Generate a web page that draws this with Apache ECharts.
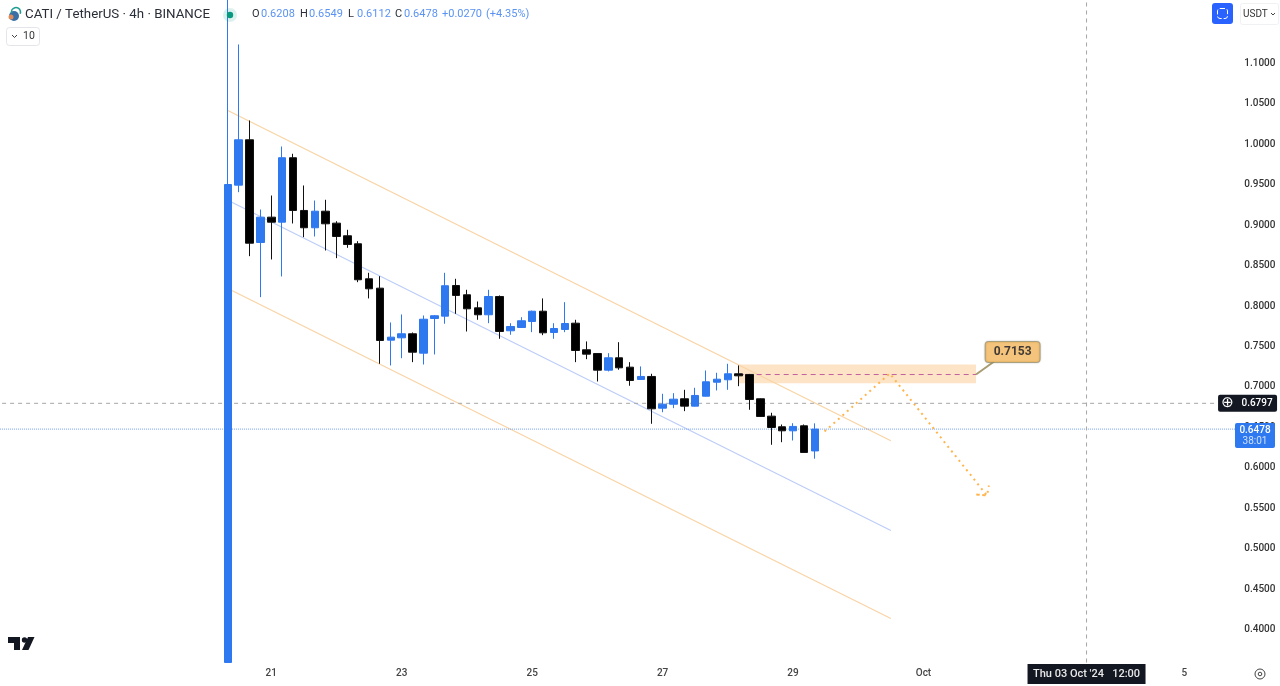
<!DOCTYPE html>
<html>
<head>
<meta charset="utf-8">
<title>CATI / TetherUS</title>
<style>
    html, body { margin: 0; padding: 0; background: #fff; }
    #chart_div { width: 1280px; height: 686px; }
</style>
<script src="https://cdn.jsdelivr.net/npm/echarts@6/dist/echarts.min.js"></script>
</head>
<body>
<div id="chart_div"></div>
<script>
// 4h bars
var opens = [0.3592, 0.9495, 1.0056, 0.8786, 0.9099, 0.9037, 0.9834, 0.9182, 0.8968, 0.9173, 0.9025,
    0.8869, 0.8770, 0.8337, 0.8221, 0.7578, 0.7607, 0.7657, 0.7417, 0.7846, 0.7875, 0.8254, 0.8139,
    0.7978, 0.7892, 0.8118, 0.7694, 0.7735, 0.7809, 0.7936, 0.7673, 0.7710, 0.7788, 0.7459, 0.7413,
    0.7207, 0.7360, 0.7244, 0.7092, 0.7129, 0.6737, 0.6786, 0.6853, 0.6762, 0.6885, 0.7058, 0.7088,
    0.7162, 0.7154, 0.6853, 0.6638, 0.6507, 0.6457, 0.6519, 0.6208];
var closes = [0.9503, 1.0056, 0.8777, 0.9099, 0.9037, 0.9834, 0.9182, 0.8968, 0.9173, 0.9017, 0.8860,
    0.8761, 0.8325, 0.8213, 0.7574, 0.7615, 0.7657, 0.7429, 0.7837, 0.7880, 0.8251, 0.8131, 0.7966,
    0.7892, 0.8118, 0.7685, 0.7747, 0.7818, 0.7936, 0.7669, 0.7722, 0.7784, 0.7450, 0.7405, 0.7207,
    0.7360, 0.7236, 0.7079, 0.7129, 0.6729, 0.6786, 0.6848, 0.6762, 0.6894, 0.7063, 0.7095, 0.7162,
    0.7137, 0.6844, 0.6634, 0.6498, 0.6457, 0.6511, 0.6189, 0.6478];
var lows = [0.3592, 0.9408, 0.8617, 0.8110, 0.8576, 0.8366, 0.9021, 0.8852, 0.8860, 0.8687, 0.8592,
    0.8720, 0.8295, 0.8094, 0.7286, 0.7265, 0.7355, 0.7306, 0.7277, 0.7401, 0.7781, 0.7904, 0.7685,
    0.7830, 0.7788, 0.7595, 0.7645, 0.7729, 0.7677, 0.7640, 0.7595, 0.7677, 0.7306, 0.7343, 0.7067,
    0.7191, 0.7212, 0.7014, 0.7086, 0.6544, 0.6687, 0.6737, 0.6700, 0.6758, 0.6881, 0.6956, 0.6964,
    0.7009, 0.6717, 0.6628, 0.6284, 0.6316, 0.6337, 0.6183, 0.6112];
var highs = [1.1900, 1.1235, 1.0295, 0.9194, 0.9367, 0.9973, 0.9883, 0.9491, 0.9305, 0.9314, 0.9049,
    0.8943, 0.8802, 0.8411, 0.8369, 0.7797, 0.7896, 0.7673, 0.7883, 0.7889, 0.8411, 0.8337, 0.8201,
    0.8056, 0.8201, 0.8131, 0.7788, 0.7862, 0.7943, 0.8094, 0.7788, 0.8048, 0.7830, 0.7562, 0.7419,
    0.7417, 0.7553, 0.7306, 0.7253, 0.7162, 0.6915, 0.6922, 0.6964, 0.6989, 0.7203, 0.7175, 0.7286,
    0.7265, 0.7160, 0.6857, 0.6680, 0.6535, 0.6551, 0.6535, 0.6549];

// price axis
var priceTicks = [0.4, 0.45, 0.5, 0.55, 0.6, 0.65, 0.7, 0.75, 0.8, 0.85, 0.9, 0.95, 1.0, 1.05, 1.1];

// time axis
var tickTimes = ['09-21 00:00', '09-23 00:00', '09-25 00:00', '09-27 00:00', '09-29 00:00', '10-01 00:00', '10-03 12:00', '10-05 00:00'];
var tickLabels = ['21', '23', '25', '27', '29', 'Oct', "Thu 03 Oct '24   12:00", '5'];

// header readout
var ohlcKeys = ['O', 'H', 'L', 'C'];
var ohlcValues = ['0.6208', '0.6549', '0.6112', '0.6478'];
var changeTexts = ['+0.0270', '(+4.35%)'];

// drawings, x in bar slots
var channelX = [21, 82];
var upperChannel = [1.0418, 0.6334];
var middleChannel = [0.9309, 0.5224];
var lowerChannel = [0.8217, 0.4136];
var pathX = [75.9, 81.9, 90.84, 89.74, 90.84, 91.02];
var pathY = [0.6449, 0.7166, 0.5657, 0.5670, 0.5657, 0.5781];
var zoneX = [68, 89.83];
var zoneY = [0.7277, 0.7046];
var targetPrice = 0.7153;
var crossPrice = 0.6797;
var lastPrice = 0.6478;
var crossSlot = 100;

var slotCount = 114;
var firstBar = 21;

// slot times, 4h apart
var categories = [];
var startTime = Date.UTC(2024, 8, 16, 20, 0);
for (var i = 0; i < slotCount; i++) {
    var d = new Date(startTime + i * 4 * 3600 * 1000);
    categories.push(pad(d.getUTCMonth() + 1) + '-' + pad(d.getUTCDate()) + ' ' + pad(d.getUTCHours()) + ':00');
}
function pad(n) {
    return n < 10 ? '0' + n : '' + n;
}

var candleData = [];
for (var i = 0; i < firstBar; i++) {
    candleData.push('-');
}
for (var i = 0; i < closes.length; i++) {
    candleData.push([opens[i], closes[i], lows[i], highs[i]]);
}

function zip(xs, ys) {
    var out = [];
    for (var i = 0; i < xs.length; i++) {
        out.push([xs[i], ys[i]]);
    }
    return out;
}

function drawing(name, data, color, width, type, extra) {
    var s = {
        name: name,
        type: 'line',
        xAxisIndex: 1,
        data: data,
        symbol: 'none',
        silent: true,
        z: 2,
        clip: false,
        lineStyle: { color: color, width: width, type: type }
    };
    for (var k in extra) {
        s[k] = extra[k];
    }
    return s;
}

var font = 'Roboto, sans-serif';
var blue = '#2e78f0';

// header, buttons and logo
var headerItems = [
    { type: 'circle', shape: { cx: 14, cy: 16, r: 5 }, style: { fill: '#3a6ea5' } },
    { type: 'circle', shape: { cx: 11, cy: 17, r: 2.5 }, style: { fill: '#e08a5a' } },
    { type: 'arc', shape: { cx: 16, cy: 12, r: 4.5, startAngle: -3.4, endAngle: 0.4 }, style: { stroke: '#1f9d94', lineWidth: 1.6, fill: null } },
    { type: 'text', x: 25, y: 8, style: { text: 'CATI / TetherUS \u00b7 4h \u00b7 BINANCE', font: '13.3px ' + font, fill: '#2a2e39' } },
    { type: 'circle', shape: { cx: 230, cy: 15, r: 7 }, style: { fill: 'rgba(8,153,129,0.14)' }, z: 10 },
    { type: 'circle', shape: { cx: 230, cy: 15, r: 3.2 }, style: { fill: '#089981' }, z: 10 },
    { type: 'rect', shape: { x: 6.5, y: 27.5, width: 33, height: 18, r: 3 }, style: { fill: '#fff', stroke: '#e3e5ea' } },
    { type: 'polyline', shape: { points: [[12, 35], [14.5, 37.5], [17, 35]] }, style: { stroke: '#444', lineWidth: 1, fill: null } },
    { type: 'text', x: 23, y: 31, style: { text: '10', font: '10.5px ' + font, fill: '#333' } },
    { type: 'rect', shape: { x: 1212, y: 3, width: 21, height: 21, r: 3 }, style: { fill: '#2962ff' } },
    { type: 'rect', shape: { x: 1217.5, y: 8.5, width: 10, height: 10, r: 2.5 }, style: { fill: null, stroke: '#fff', lineWidth: 1, lineDash: [5, 2] } },
    { type: 'rect', shape: { x: 1240.5, y: 3.5, width: 38, height: 21, r: 2 }, style: { fill: '#fff', stroke: '#f0f1f3' } },
    { type: 'text', x: 1243, y: 9, style: { text: 'USDT', font: '10px ' + font, fill: '#333' } },
    { type: 'polyline', shape: { points: [[1271, 13], [1273, 15], [1275, 13]] }, style: { stroke: '#444', lineWidth: 1, fill: null } },
    { type: 'circle', shape: { cx: 1260, cy: 674, r: 5 }, style: { fill: null, stroke: '#444', lineWidth: 1 } },
    { type: 'circle', shape: { cx: 1260, cy: 674, r: 1.8 }, style: { fill: null, stroke: '#444', lineWidth: 1 } },
    { type: 'polygon', shape: { points: [[8, 637], [20, 637], [20, 650], [14, 650], [14, 643], [8, 643]] }, style: { fill: '#131722' } },
    { type: 'circle', shape: { cx: 24.5, cy: 640, r: 2.7 }, style: { fill: '#131722' } },
    { type: 'polygon', shape: { points: [[28, 637], [34.5, 637], [28.5, 650], [22, 650]] }, style: { fill: '#131722' } }
];
var keyLeft = [252, 300, 348, 395];
for (var i = 0; i < ohlcKeys.length; i++) {
    headerItems.push({ type: 'text', x: keyLeft[i], y: 9, style: { text: ohlcKeys[i], font: '11px ' + font, fill: '#2a2e39' } });
    headerItems.push({ type: 'text', x: keyLeft[i] + 9, y: 9, style: { text: ohlcValues[i], font: '11px ' + font, fill: '#5a93f3' } });
}
headerItems.push({ type: 'text', x: 442, y: 9, style: { text: changeTexts[0], font: '11px ' + font, fill: '#5a93f3' } });
headerItems.push({ type: 'text', x: 486, y: 9, style: { text: changeTexts[1], font: '11px ' + font, fill: '#5a93f3' } });

var myChart = echarts.init(document.getElementById('chart_div'));
var option = {
    animation: false,
    backgroundColor: '#ffffff',
    textStyle: { fontFamily: font },
    grid: { left: -5.9, top: -17.4, width: slotCount * 10.87, height: 687.3, outerBoundsMode: 'none' },
    xAxis: [{
        type: 'category',
        data: categories,
        axisLine: { show: false },
        axisTick: { show: false },
        splitLine: { show: false },
        axisLabel: {
            margin: 4,
            verticalAlign: 'middle',
            hideOverlap: false,
            color: '#444',
            fontSize: 10,
            fontWeight: 500,
            interval: function (index, value) {
                return tickTimes.indexOf(value) >= 0;
            },
            formatter: function (value) {
                var label = tickLabels[tickTimes.indexOf(value)];
                return value == tickTimes[6] ? '{cross|' + label + '}' : label;
            },
            rich: {
                cross: {
                    backgroundColor: '#131722',
                    color: '#e8e8e8',
                    fontSize: 11,
                    width: 118,
                    height: 20,
                    lineHeight: 20,
                    align: 'center'
                }
            }
        }
    }, {
        type: 'value',
        min: -0.5,
        max: slotCount - 0.5,
        show: false
    }],
    yAxis: {
        type: 'value',
        position: 'right',
        min: 0.35,
        max: 1.2,
        interval: 0.05,
        axisLine: { show: false },
        axisTick: { show: false },
        splitLine: { show: false },
        axisLabel: {
            customValues: priceTicks,
            margin: 11,
            padding: [2, 0, 0, 0],
            color: '#333',
            fontSize: 10,
            fontWeight: 500,
            formatter: function (v) {
                return v.toFixed(4);
            }
        }
    },
    series: [
        drawing('upper', zip(channelX, upperChannel), '#f9d3a4', 1.2, 'solid'),
        drawing('middle', zip(channelX, middleChannel), '#bccdf8', 1.2, 'solid'),
        drawing('lower', zip(channelX, lowerChannel), '#f9d3a4', 1.2, 'solid'),
        drawing('last', [[-0.5, lastPrice], [113.9, lastPrice]], '#6f9df2', 1, [1, 1], {
            endLabel: {
                show: true,
                distance: 0,
                offset: [0, 6.5],
                formatter: '{a|' + lastPrice.toFixed(4) + '}\n{b|38:01}',
                backgroundColor: blue,
                borderRadius: 2,
                padding: [1, 0, 1, 0],
                rich: {
                    a: { color: '#fff', fontSize: 10, fontWeight: 500, width: 40, align: 'center', lineHeight: 12 },
                    b: { color: '#cfe0fb', fontSize: 10, width: 40, align: 'center', lineHeight: 11 }
                }
            }
        }),
        drawing('cross', [[-0.5, crossPrice], [112.1, crossPrice]], '#a6a6a6', 1, [4, 4], {
            endLabel: {
                show: true,
                distance: 0,
                formatter: '{p|\u2295}{v|' + crossPrice.toFixed(4) + '}',
                backgroundColor: '#131722',
                borderRadius: 2,
                rich: {
                    p: { color: '#fff', fontFamily: 'DejaVu Sans', fontSize: 15, width: 19, height: 17, align: 'center' },
                    v: { color: '#fff', fontSize: 10, fontWeight: 500, width: 40, height: 17, align: 'center' }
                }
            }
        }),
        drawing('crosshair', [[crossSlot, 0.3592], [crossSlot, 1.2]], '#a6a6a6', 1, [4, 4]),
        drawing('target', [[zoneX[0], targetPrice], [zoneX[1], targetPrice]], '#c2619f', 1, [5, 4], {
            z: 2,
            markArea: {
                silent: true,
                z: 1,
                itemStyle: { color: '#fde4c6' },
                data: [[{ coord: [zoneX[0], zoneY[0]] }, { coord: [zoneX[1], zoneY[1]] }]]
            }
        }),
        drawing('path', zip(pathX, pathY), '#ffb54d', 2, [2, 4], { z: 4 }),
        drawing('callout line', [[zoneX[1], targetPrice], [91.5, 0.7314]], '#a89c70', 2, 'solid', { z: 4 }),
        {
            name: 'callout',
            type: 'scatter',
            xAxisIndex: 1,
            symbolSize: 0,
            silent: true,
            z: 5,
            data: [[93.2, 0.7432]],
            label: {
                show: true,
                position: 'inside',
                formatter: targetPrice.toFixed(4),
                color: '#131722',
                fontSize: 12,
                fontWeight: 'bold',
                backgroundColor: '#ffc268',
                borderColor: '#a89c70',
                borderWidth: 1,
                borderRadius: 3,
                padding: [4, 8, 4, 8],
                shadowColor: 'rgba(0,0,0,0.25)',
                shadowBlur: 2
            }
        },
        {
            name: 'CATI',
            type: 'candlestick',
            xAxisIndex: 0,
            data: candleData,
            barWidth: 8,
            silent: true,
            z: 3,
            itemStyle: {
                color: blue,
                color0: '#000000',
                borderColor: blue,
                borderColor0: '#111111',
                borderWidth: 1
            }
        }
    ],
    graphic: headerItems
};
myChart.setOption(option);
</script>
</body>
</html>
